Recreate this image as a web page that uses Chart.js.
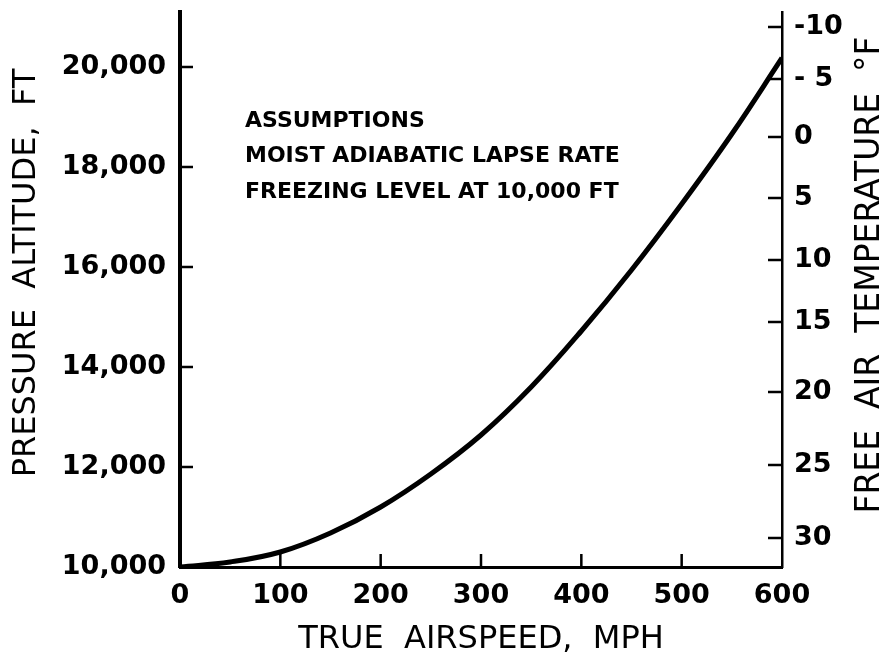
<!DOCTYPE html>
<html>
<head>
<meta charset="utf-8">
<title>True airspeed vs pressure altitude</title>
<script src="https://cdn.jsdelivr.net/npm/chart.js@4/dist/chart.umd.min.js"></script>
<style>
    html, body { margin: 0; padding: 0; background: #fff; }
    #wrap { width: 886px; height: 665px; }
</style>
</head>
<body>
<div id="wrap"><canvas id="chart" width="886" height="665"></canvas></div>
<script>
// Curve (mph -> ft)
const airspeed = [0, 50, 100, 150, 200, 250, 300, 350, 400, 450, 500, 550, 600];
const altitude = [10000, 10100, 10300, 10680, 11200, 11860, 12640, 13600, 14720, 15940, 17260, 18660, 20180];

// Axis ticks
const speedTicks = [0, 100, 200, 300, 400, 500, 600];
const altitudeTicks = [10000, 12000, 14000, 16000, 18000, 20000];

// Right axis: temperature labels and the altitude where each one sits
const tempLabels = ['-10', '- 5', '0', '5', '10', '15', '20', '25', '30'];
const tempAltitudes = [20800, 19760, 18600, 17380, 16140, 14900, 13500, 12040, 10580];

const notes = ['ASSUMPTIONS', 'MOIST ADIABATIC LAPSE RATE', 'FREEZING LEVEL AT 10,000 FT'];

const FONT = "'DejaVu Sans', sans-serif";
const tickFont = { family: FONT, size: 27, weight: 'bold' };

// white background
const bgPlugin = {
    id: 'bg',
    beforeDraw(chart) {
        const ctx = chart.ctx;
        ctx.save();
        ctx.fillStyle = '#fff';
        ctx.fillRect(0, 0, chart.width, chart.height);
        ctx.restore();
    }
};

// tick marks pointing into the plot, plus titles and the note
const extrasPlugin = {
    id: 'extras',
    afterDraw(chart) {
        const ctx = chart.ctx;
        const area = chart.chartArea;
        const x = chart.scales.x;
        const y = chart.scales.y;
        const t = chart.scales.temp;
        ctx.save();
        ctx.strokeStyle = '#000';
        ctx.lineWidth = 2.5;
        ctx.beginPath();
        x.ticks.forEach(tk => {
            if (tk.value === x.min || tk.value === x.max) return;
            const px = x.getPixelForValue(tk.value);
            ctx.moveTo(px, area.bottom);
            ctx.lineTo(px, area.bottom - 13);
        });
        y.ticks.forEach(tk => {
            if (tk.value === y.min) return;
            const py = y.getPixelForValue(tk.value);
            ctx.moveTo(area.left, py);
            ctx.lineTo(area.left + 13, py);
        });
        t.ticks.forEach(tk => {
            const py = t.getPixelForValue(tk.value);
            ctx.moveTo(area.right, py);
            ctx.lineTo(area.right - 14, py);
        });
        ctx.stroke();

        ctx.fillStyle = '#000';
        ctx.textAlign = 'center';
        ctx.textBaseline = 'middle';

        // left title
        ctx.save();
        ctx.translate(27, 273);
        ctx.rotate(-Math.PI / 2);
        ctx.font = '32px ' + FONT;
        ctx.fillText('PRESSURE  ALTITUDE,  FT', 0, 0);
        ctx.restore();

        // right title
        ctx.save();
        ctx.translate(870, 275);
        ctx.rotate(-Math.PI / 2);
        ctx.font = '33px ' + FONT;
        ctx.fillText('FREE  AIR  TEMPERATURE  °F', 0, 0);
        ctx.restore();

        // assumptions note
        ctx.textAlign = 'left';
        ctx.textBaseline = 'alphabetic';
        ctx.font = 'bold 22px ' + FONT;
        const baselines = [127, 162, 198];
        notes.forEach((line, i) => ctx.fillText(line, 245, baselines[i]));
        ctx.restore();
    }
};

// keep the plot box where the picture has it
function noLabelPadding(s) {
    s.paddingTop = 0;
    s.paddingBottom = 0;
    s.paddingLeft = 0;
    s.paddingRight = 0;
}

new Chart(document.getElementById('chart'), {
    type: 'line',
    data: {
        datasets: [{
            data: airspeed.map((v, i) => ({ x: v, y: altitude[i] })),
            borderColor: '#000',
            borderWidth: 5,
            pointRadius: 0,
            tension: 0.4,
            fill: false
        }]
    },
    options: {
        responsive: false,
        animation: false,
        layout: { padding: { top: 12, left: 0, right: 0, bottom: 0 } },
        plugins: {
            legend: { display: false },
            tooltip: { enabled: false }
        },
        scales: {
            x: {
                type: 'linear',
                min: 0,
                max: 600,
                afterBuildTicks: s => { s.ticks = speedTicks.map(v => ({ value: v })); },
                afterFit: s => { s.height = 98; noLabelPadding(s); },
                grid: { display: true, drawOnChartArea: false, drawTicks: false },
                border: { display: true, color: '#000', width: 3 },
                ticks: {
                    color: '#000',
                    padding: 13,
                    maxRotation: 0,
                    font: tickFont
                },
                title: {
                    display: true,
                    text: 'TRUE  AIRSPEED,  MPH',
                    color: '#000',
                    font: { family: FONT, size: 32 },
                    padding: { top: 0, bottom: 6 }
                }
            },
            y: {
                type: 'linear',
                position: 'left',
                min: 10000,
                max: 21100,
                afterBuildTicks: s => { s.ticks = altitudeTicks.map(v => ({ value: v })); },
                afterFit: s => { s.width = 180; noLabelPadding(s); },
                grid: { display: true, drawOnChartArea: false, drawTicks: false },
                border: { display: true, color: '#000', width: 4 },
                ticks: {
                    color: '#000',
                    padding: 14,
                    font: tickFont,
                    callback: v => v.toLocaleString('en-US')
                }
            },
            temp: {
                type: 'linear',
                position: 'right',
                min: 10000,
                max: 21100,
                afterBuildTicks: s => { s.ticks = tempAltitudes.map(v => ({ value: v })); },
                afterFit: s => { s.width = 104; noLabelPadding(s); },
                grid: { display: true, drawOnChartArea: false, drawTicks: false },
                border: { display: true, color: '#000', width: 2.5 },
                ticks: {
                    color: '#000',
                    padding: 12,
                    font: tickFont,
                    callback: (v, i) => tempLabels[i]
                }
            }
        }
    },
    plugins: [bgPlugin, extrasPlugin]
});
</script>
</body>
</html>
